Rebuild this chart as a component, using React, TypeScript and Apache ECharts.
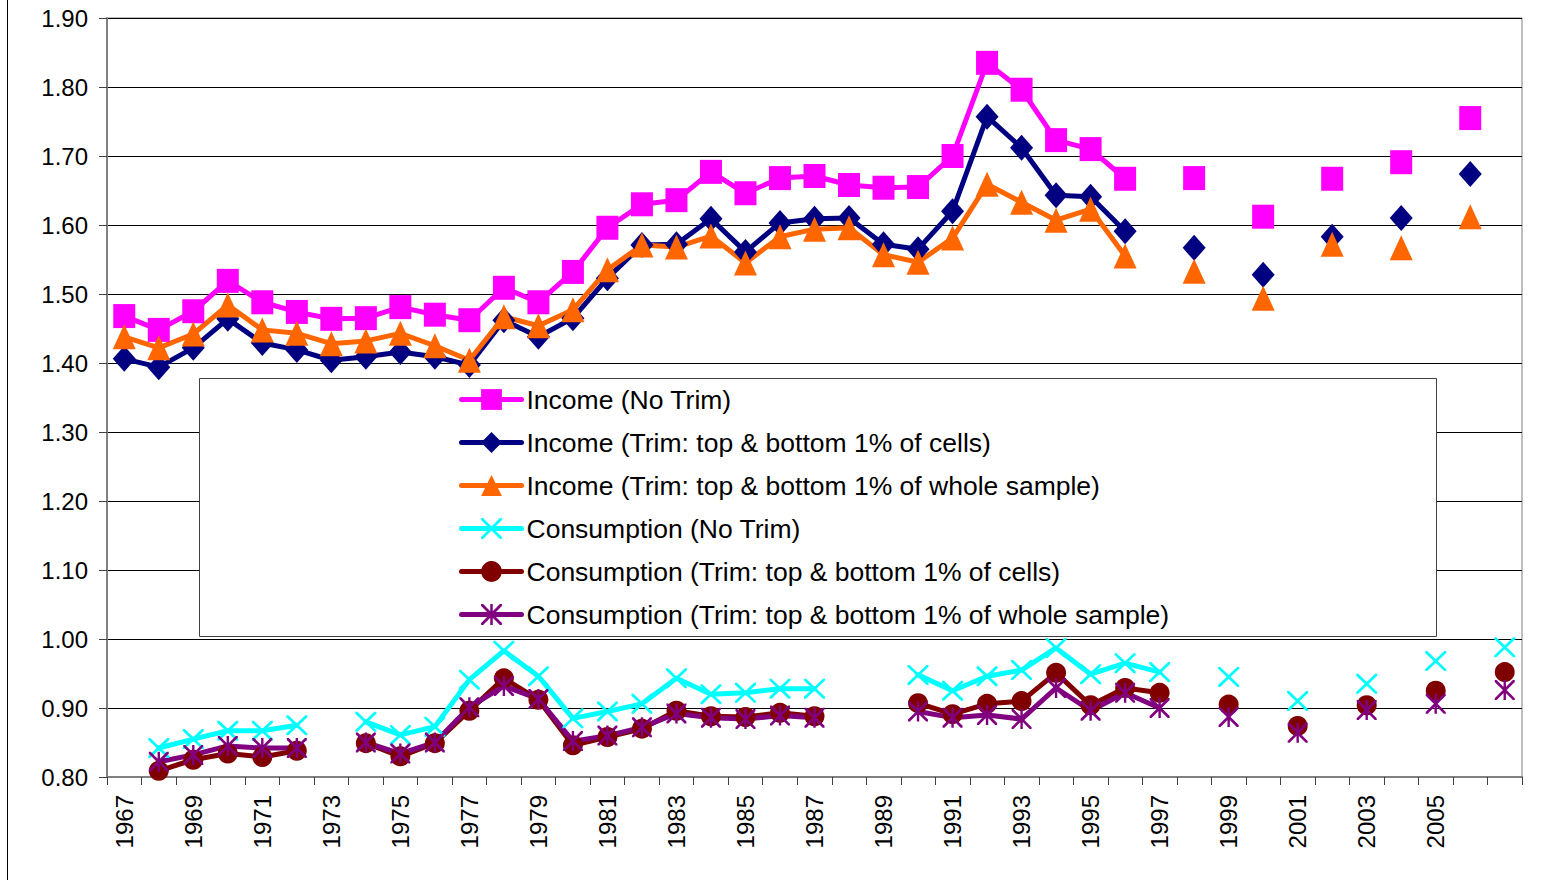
import React, { useEffect, useRef } from "react";
import * as echarts from "echarts";

const years: string[] = [];
for (let y = 1967; y <= 2007; y++) years.push(String(y));

const yTicks = { min: 0.8, max: 1.9, interval: 0.1 };

const incomeNoTrim = [1.468, 1.448, 1.475, 1.519, 1.488, 1.474, 1.464, 1.465, 1.481, 1.470, 1.462, 1.509, 1.488, 1.532, 1.596, 1.630, 1.636, 1.677, 1.646, 1.668, 1.671, 1.658, 1.654, 1.655, 1.700, 1.835, 1.796, 1.723, 1.710, 1.667, null, 1.668, null, 1.612, null, 1.667, null, 1.691, null, 1.755, null];
const incomeTrimCells = [1.406, 1.394, 1.422, 1.464, 1.429, 1.419, 1.404, 1.409, 1.416, 1.409, 1.397, 1.462, 1.438, 1.465, 1.523, 1.571, 1.572, 1.609, 1.561, 1.603, 1.609, 1.610, 1.572, 1.565, 1.620, 1.757, 1.712, 1.643, 1.641, 1.591, null, 1.567, null, 1.528, null, 1.583, null, 1.610, null, 1.674, null];
const incomeTrimWhole = [1.438, 1.422, 1.442, 1.484, 1.448, 1.443, 1.428, 1.432, 1.443, 1.425, 1.404, 1.467, 1.454, 1.477, 1.535, 1.571, 1.568, 1.584, 1.545, 1.583, 1.594, 1.596, 1.557, 1.546, 1.581, 1.659, 1.633, 1.607, 1.623, 1.555, null, 1.533, null, 1.494, null, 1.572, null, 1.567, null, 1.612, null];
const consNoTrim = [null, 0.842, 0.855, 0.867, 0.867, 0.875, null, 0.880, 0.861, 0.873, 0.941, 0.983, 0.946, 0.885, 0.895, 0.906, 0.943, 0.920, 0.922, 0.928, 0.928, null, null, 0.948, 0.925, 0.946, 0.955, 0.987, 0.949, 0.965, 0.952, null, 0.945, null, 0.910, null, 0.935, null, 0.968, null, 0.988];
const consTrimCells = [null, 0.809, 0.825, 0.834, 0.829, 0.838, null, 0.849, 0.830, 0.849, 0.896, 0.943, 0.912, 0.846, 0.858, 0.870, 0.896, 0.888, 0.887, 0.893, 0.888, null, null, 0.907, 0.891, 0.906, 0.910, 0.951, 0.904, 0.929, 0.922, null, 0.905, null, 0.874, null, 0.904, null, 0.925, null, 0.952];
const consTrimWhole = [null, 0.822, 0.832, 0.845, 0.842, 0.842, null, 0.850, 0.834, 0.850, 0.901, 0.932, 0.913, 0.852, 0.860, 0.872, 0.892, 0.886, 0.884, 0.889, 0.886, null, null, 0.895, 0.886, 0.890, 0.884, 0.929, 0.896, 0.922, 0.900, null, 0.887, null, 0.864, null, 0.897, null, 0.906, null, 0.926];

const seriesNames = [
  "Income (No Trim)",
  "Income (Trim: top & bottom 1% of cells)",
  "Income (Trim: top & bottom 1% of whole sample)",
  "Consumption (No Trim)",
  "Consumption (Trim: top & bottom 1% of cells)",
  "Consumption (Trim: top & bottom 1% of whole sample)",
];

const X_PATH = "path://M0,0L1.9,0L20,18.1L20,20L18.1,20L0,1.9ZM20,0L20,1.9L1.9,20L0,20L0,18.1L18.1,0Z";
const STAR_PATH = "path://M0,0L1.9,0L20,18.1L20,20L18.1,20L0,1.9ZM20,0L20,1.9L1.9,20L0,20L0,18.1L18.1,0ZM8.8,0L11.2,0L11.2,20L8.8,20Z";

const FONT = "Liberation Sans, Arial, sans-serif";

export default function App() {
  const ref = useRef<HTMLDivElement>(null);
  useEffect(() => {
    document.body.style.margin = "0";
    const chart = echarts.init(ref.current!, null, { renderer: "svg" });
    const mk = (name: string, data: (number | null)[], color: string, symbol: string, size: number[], width = 5) => ({
      name,
      type: "line",
      data,
      symbol,
      symbolSize: size,
      showAllSymbol: true,
      connectNulls: false,
      itemStyle: { color },
      lineStyle: { color, width, join: "round", cap: "round" },
      emphasis: { disabled: true },
    });
    chart.setOption({
      animation: false,
      backgroundColor: "#ffffff",
      textStyle: { fontFamily: FONT },
      grid: { left: 107, right: 25, top: 18, bottom: 103, show: true, borderColor: "#808080", borderWidth: 1 },
      xAxis: {
        type: "category",
        data: years,
        boundaryGap: true,
        axisLine: { lineStyle: { color: "#808080", width: 2 } },
        axisTick: { show: true, length: 8, alignWithLabel: false, interval: 0, lineStyle: { color: "#404040", width: 1 } },
        axisLabel: {
          rotate: 90,
          margin: 18,
          interval: (i: number) => i % 2 === 0 && i < 40,
          color: "#000",
          fontSize: 24,
          fontFamily: FONT,
        },
        splitLine: { show: false },
      },
      yAxis: {
        type: "value",
        min: yTicks.min,
        max: yTicks.max,
        interval: yTicks.interval,
        axisLine: { show: true, lineStyle: { color: "#808080", width: 2 } },
        axisTick: { show: true, length: 8, lineStyle: { color: "#404040" } },
        axisLabel: {
          margin: 19,
          color: "#000",
          fontSize: 24,
          fontFamily: FONT,
          formatter: (v: number) => v.toFixed(2),
        },
        splitLine: { show: true, lineStyle: { color: "#000", width: 1 } },
      },
      legend: {
        orient: "vertical",
        left: 459,
        top: 386,
        padding: 0,
        itemGap: 16,
        itemWidth: 60,
        itemHeight: 26,
        selectedMode: false,
        lineStyle: { width: 5 },
        textStyle: { fontSize: 26.5, color: "#000", fontFamily: FONT, lineHeight: 26 },
        data: seriesNames,
        z: 10,
      },
      graphic: [
        { type: "line", shape: { x1: 7.5, y1: 0, x2: 7.5, y2: 880 }, style: { stroke: "#000", lineWidth: 1 }, z: 0 },
        { type: "rect", shape: { x: 199.5, y: 378.5, width: 1237, height: 258 }, style: { fill: "#fff", stroke: "#404040", lineWidth: 1 }, z: 3 },
      ],
      series: [
        mk(seriesNames[0], incomeNoTrim, "#FF00FF", "rect", [22, 24]),
        mk(seriesNames[1], incomeTrimCells, "#000080", "diamond", [23, 26]),
        mk(seriesNames[2], incomeTrimWhole, "#FF6600", "triangle", [23, 25]),
        mk(seriesNames[3], consNoTrim, "#00FFFF", X_PATH, [21, 20]),
        mk(seriesNames[4], consTrimCells, "#800000", "circle", [20, 20]),
        mk(seriesNames[5], consTrimWhole, "#800080", STAR_PATH, [20, 20]),
      ],
    });
    return () => chart.dispose();
  }, []);
  return <div ref={ref} style={{ position: "fixed", left: 0, top: 0, width: 1547, height: 880 }} />;
}
